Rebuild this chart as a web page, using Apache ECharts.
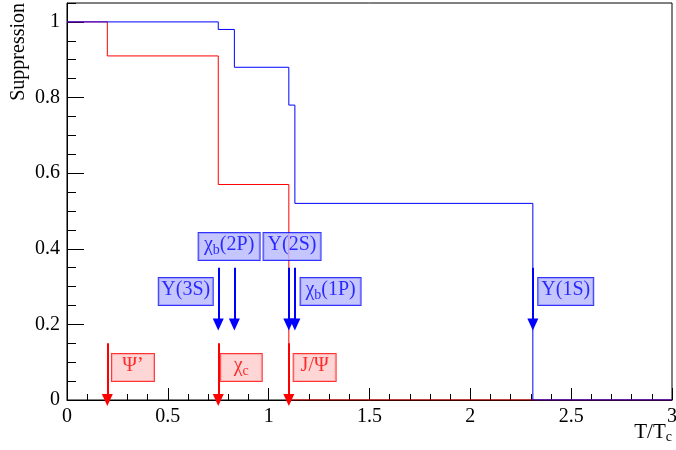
<!DOCTYPE html>
<html>
<head>
<meta charset="utf-8">
<script src="https://cdn.jsdelivr.net/npm/echarts@6/dist/echarts.min.js"></script>
<style>
  html, body { margin: 0; padding: 0; background: #fff; }
  #chart { width: 676px; height: 450px; }
</style>
</head>
<body>
<div id="chart"></div>
<script>
// Step edges (T/Tc) and suppression level held on each step
const charmEdges = [0, 0.2, 0.75, 1.1, 3];
const charmLevels = [1, 0.91, 0.57, 0];
const bottomEdges = [0, 0.75, 0.83, 1.1, 1.13, 2.31, 3];
const bottomLevels = [1, 0.98, 0.88, 0.78, 0.52, 0];

// Dissociation temperatures of each state (arrow positions)
const charmStates = ['Ψ’', 'χc', 'J/Ψ'];
const charmMelt = [0.2, 0.75, 1.1];
const bottomStates = ['Υ(3S)', 'χb(2P)', 'Υ(2S)', 'χb(1P)', 'Υ(1S)'];
const bottomMelt = [0.75, 0.83, 1.1, 1.13, 2.31];

// Arrow spans in suppression units
const charmArrow = [0.15, 0];
const bottomArrow = [0.35, 0.2];

const xTicks = [0, 0.5, 1, 1.5, 2, 2.5, 3];
const yTicks = [0, 0.2, 0.4, 0.6, 0.8, 1];

const FONT = "'Liberation Serif', 'Times New Roman', serif";
const RED = '#ff0000';
const BLUE = '#0000ff';

function stepPoints(edges, levels) {
  const pts = levels.map((v, i) => [edges[i], v]);
  pts.push([edges[edges.length - 1], levels[levels.length - 1]]);
  return pts;
}

function fmt(v) {
  return String(Math.round(v * 100) / 100);
}

// Label anchor (centre of each box, data coords) and box size in px
const charmBoxes = [
  { at: [0.327, 0.086], w: 44, h: 29 },
  { at: [0.864, 0.086], w: 43, h: 29 },
  { at: [1.228, 0.086], w: 44, h: 29 }
];
const bottomBoxes = [
  { at: [0.589, 0.287], w: 56, h: 29 },
  { at: [0.804, 0.406], w: 63, h: 29 },
  { at: [1.116, 0.406], w: 59, h: 29 },
  { at: [1.307, 0.287], w: 62, h: 29 },
  { at: [2.473, 0.287], w: 57, h: 29 }
];

function richText(name) {
  // χb / χc get a subscript letter
  if (name.startsWith('χ')) {
    const sub = name.charAt(1);
    const rest = name.slice(2);
    return '{t|χ}{s|' + sub + '}' + (rest ? '{t|' + rest + '}' : '');
  }
  return '{t|' + name + '}';
}

function boxSeries(names, boxes, color, fill) {
  return {
    type: 'scatter',
    symbolSize: 0,
    silent: true,
    z: 5,
    data: names.map((n, i) => ({
      value: boxes[i].at,
      label: {
        show: true,
        position: 'inside',
        formatter: richText(n),
        width: boxes[i].w - 2,
        height: boxes[i].h - 2,
        align: 'center',
        verticalAlign: 'middle',
        lineHeight: boxes[i].h - 2,
        backgroundColor: fill,
        borderColor: color,
        borderWidth: 1,
        padding: 0,
        rich: {
          t: { fontFamily: FONT, fontSize: 20, color: color, lineHeight: 24, verticalAlign: 'middle' },
          s: { fontFamily: FONT, fontSize: 14, color: color, lineHeight: 8, verticalAlign: 'bottom' }
        }
      }
    }))
  };
}

function arrowSeries(xs, span, color) {
  return {
    type: 'line',
    data: [],
    silent: true,
    z: 4,
    markLine: {
      silent: true,
      symbol: ['none', 'triangle'],
      symbolSize: [11, 12],
      symbolRotate: 180,
      label: { show: false },
      lineStyle: { color: color, width: 2, type: 'solid' },
      animation: false,
      data: xs.map(x => [
        { coord: [x, span[0]] },
        { coord: [x, span[1]] }
      ])
    }
  };
}

const chart = echarts.init(document.getElementById('chart'), null, { renderer: 'canvas' });

chart.setOption({
  animation: false,
  backgroundColor: '#ffffff',
  textStyle: { fontFamily: FONT },
  grid: {
    left: 67, right: 4, top: 3, bottom: 50,
    outerBoundsMode: 'none', containLabel: false,
    show: true, borderColor: '#000', borderWidth: 1, backgroundColor: 'transparent'
  },
  xAxis: {
    type: 'value', min: 0, max: 3, interval: 0.5,
    splitLine: { show: false },
    axisLine: { lineStyle: { color: '#000', width: 1 } },
    axisTick: { inside: true, length: 12, lineStyle: { color: '#000' } },
    minorTick: { show: true, splitNumber: 5, length: 6, lineStyle: { color: '#000' } },
    axisLabel: {
      fontFamily: FONT, fontSize: 20, color: '#000', margin: 7,
      hideOverlap: false,
      formatter: v => xTicks.some(t => Math.abs(t - v) < 1e-6) ? fmt(v) : ''
    }
  },
  yAxis: [
    {
      type: 'value', min: 0, max: 1.05, interval: 0.2,
      splitLine: { show: false },
      axisLine: { show: true, lineStyle: { color: '#000', width: 1 } },
      axisTick: { inside: true, length: 17, lineStyle: { color: '#000' } },
      axisLabel: {
        fontFamily: FONT, fontSize: 20, color: '#000', margin: 7,
        showMaxLabel: false,
        formatter: v => yTicks.some(t => Math.abs(t - v) < 1e-6) ? fmt(v) : ''
      }
    },
    {
      // minor ticks every 0.05
      type: 'value', min: 0, max: 1.05, interval: 0.05, position: 'left',
      splitLine: { show: false },
      axisLine: { show: false },
      axisTick: { inside: true, length: 9, lineStyle: { color: '#000' } },
      axisLabel: { show: false }
    }
  ],
  graphic: [
    {
      type: 'text', x: 19, y: 3, rotation: Math.PI / 2,
      style: { text: 'Suppression', fontFamily: FONT, fontSize: 20, fill: '#000', align: 'right', verticalAlign: 'middle' }
    },
    {
      type: 'text', right: 4, top: 422,
      style: {
        text: '{t|T/T}{s|c}',
        rich: {
          t: { fontFamily: FONT, fontSize: 21, fill: '#000', lineHeight: 24, verticalAlign: 'middle' },
          s: { fontFamily: FONT, fontSize: 14, fill: '#000', lineHeight: 8, verticalAlign: 'bottom' }
        }
      }
    }
  ],
  series: [
    {
      name: 'charmonium', type: 'line', step: 'end', symbol: 'none',
      data: stepPoints(charmEdges, charmLevels),
      lineStyle: { color: RED, width: 1 }, z: 3
    },
    {
      name: 'bottomonium', type: 'line', step: 'end', symbol: 'none',
      data: stepPoints(bottomEdges, bottomLevels),
      lineStyle: { color: BLUE, width: 1 }, z: 3
    },
    arrowSeries(charmMelt, charmArrow, RED),
    arrowSeries(bottomMelt, bottomArrow, BLUE),
    boxSeries(charmStates, charmBoxes, RED, '#ffcccc'),
    boxSeries(bottomStates, bottomBoxes, BLUE, '#b8b8ff')
  ]
});
</script>
</body>
</html>
